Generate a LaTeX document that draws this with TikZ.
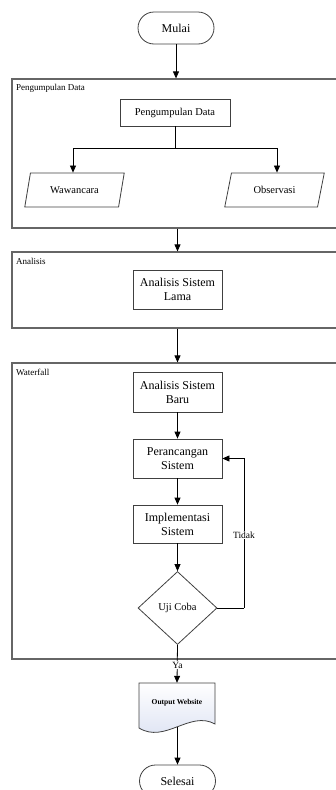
\documentclass[tikz,border=0pt]{standalone}
\usepackage{fontspec}
\setmainfont{Liberation Serif}
\usetikzlibrary{arrows.meta,shapes.geometric,calc}
\tikzset{
  arr/.style={draw=black,line width=0.8pt,-{Triangle[width=6pt,length=7pt]}},
  plain/.style={draw=black,line width=0.8pt},
  frame/.style={draw=black!60,line width=1.2pt,rectangle,inner sep=0pt},
  flabel/.style={anchor=north west,inner sep=0pt,font=\fontsize{9}{10}\selectfont},
  procbox/.style={draw=black!75,line width=0.8pt,rectangle,inner sep=1pt,align=center,font=\fontsize{12}{14}\selectfont},
  term/.style={draw=black!75,line width=0.8pt,rectangle,rounded corners=16pt,minimum width=76pt,minimum height=32pt,font=\fontsize{12}{14}\selectfont},
  io/.style={draw=black!75,line width=0.8pt,trapezium,trapezium left angle=66,trapezium right angle=114,trapezium stretches=true,minimum width=100pt,minimum height=34pt,inner sep=0pt,font=\fontsize{10.5}{12}\selectfont},
  decision/.style={draw=black!75,line width=0.8pt,diamond,minimum width=79pt,minimum height=73pt,inner sep=0pt,font=\fontsize{10.5}{12}\selectfont},
  lbl/.style={fill=white,inner sep=1pt,font=\fontsize{9.5}{11}\selectfont}
}
\begin{document}
\begin{tikzpicture}[x=1pt,y=-1pt]
\useasboundingbox (0,0) rectangle (335,790);
% frames
\node[frame,minimum width=333pt,minimum height=149pt] (frame1) at (178.5,153.5) {};
\node[flabel] (f1lab) at (16,84) {Pengumpulan Data};
\node[frame,minimum width=333pt,minimum height=76pt] (frame2) at (178.5,290) {};
\node[flabel] (f2lab) at (16,258) {Analisis};
\node[frame,minimum width=333pt,minimum height=296pt] (frame3) at (178.5,511) {};
\node[flabel] (f3lab) at (16,369) {Waterfall};
% nodes
\node[term] (mulai) at (176,28) {Mulai};
\node[procbox,minimum width=110pt,minimum height=27pt,font=\fontsize{10.5}{12}\selectfont] (pd) at (175,112.5) {Pengumpulan Data};
\node[io] (waw) at (74.5,190) {Wawancara};
\node[io] (obs) at (274.5,190) {Observasi};
\node[procbox,minimum width=89pt,minimum height=39pt] (asl) at (177.5,289.5) {Analisis Sistem\\Lama};
\node[procbox,minimum width=89pt,minimum height=40pt] (asb) at (177.5,392) {Analisis Sistem\\Baru};
\node[procbox,minimum width=89pt,minimum height=39pt] (ps) at (177.5,458.5) {Perancangan\\Sistem};
\node[procbox,minimum width=89pt,minimum height=38pt] (is) at (177.5,524) {Implementasi\\Sistem};
\node[decision] (uji) at (177.5,608) {Uji Coba};
% document shape
\node[minimum width=76pt,minimum height=44pt,inner sep=0pt] (doc) at (177,705) {};
\path[draw=black!75,line width=0.8pt,top color=white,bottom color={rgb,255:red,218;green,224;blue,242}]
  (139,683) -- (215,683) -- (215,724) .. controls (190,710) and (165,744) .. (139,728) -- cycle;
\node[font=\bfseries\fontsize{7.5}{9}\selectfont,inner sep=0pt] (doctext) at (177,703) {Output Website};
\coordinate (docbot) at (177.5,727);
\node[term] (selesai) at (177.5,781) {Selesai};
% connectors
\draw[arr] (mulai) -- (mulai |- frame1.north);
\draw[plain] (pd.south) -- ++(0,22) coordinate (split);
\draw[arr] (split) -| (waw.north -| 73,0);
\draw[arr] (split) -| (obs.north -| 277,0);
\draw[arr] (frame1.south -| 177.5,0) -- (frame2.north -| 177.5,0);
\draw[arr] (frame2.south -| 177.5,0) -- (frame3.north -| 177.5,0);
\draw[arr] (asb) -- (ps);
\draw[arr] (ps) -- (is);
\draw[arr] (is) -- (uji);
\draw[plain] (uji.east) -- (244,608) coordinate (fb1);
\draw[arr] (fb1) -- (244,458.5) coordinate (fb2) -- (ps.east);
\node[lbl] (tidak) at (244,535) {Tidak};
\draw[arr] (uji.south) -- (doc.north);
\node[lbl,inner sep=0.5pt] (ya) at (177.5,665) {Ya};
\draw[arr] (docbot) -- (selesai);
\end{tikzpicture}
\end{document}
